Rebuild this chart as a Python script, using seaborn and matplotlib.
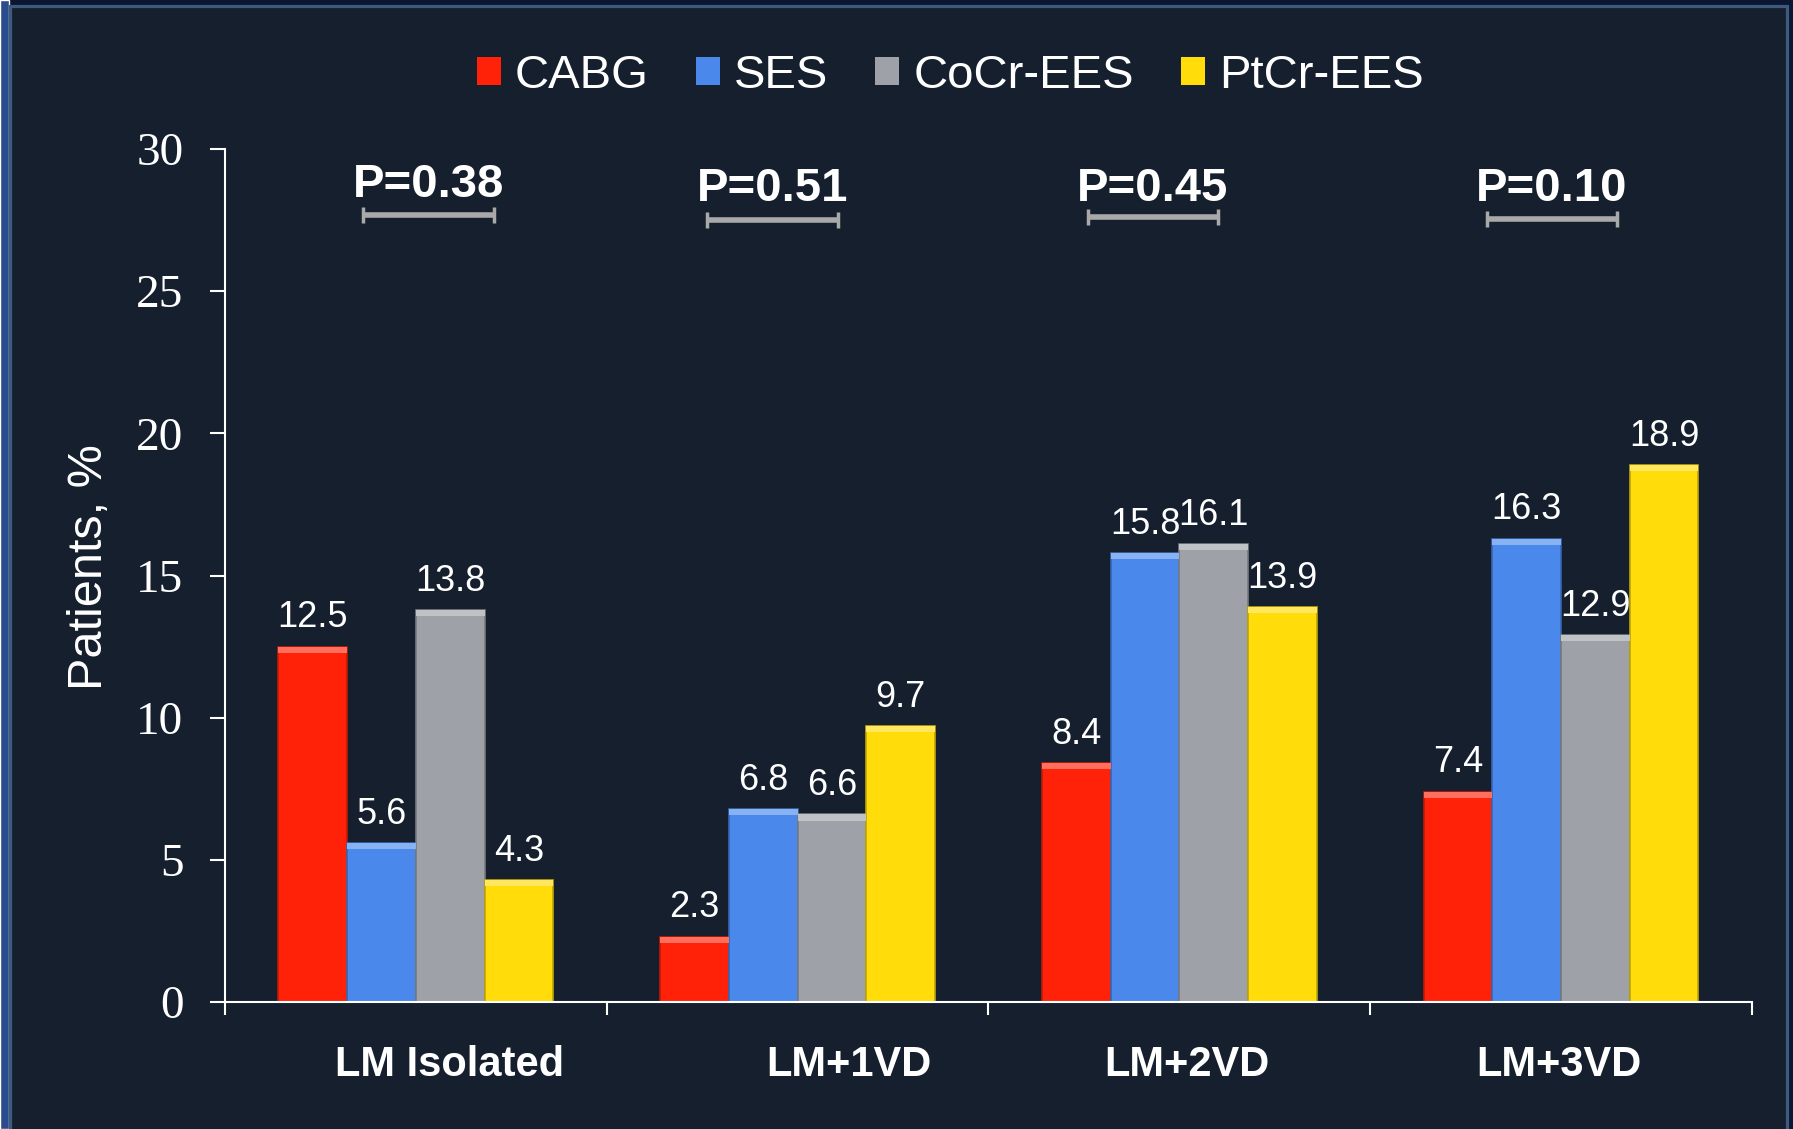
import matplotlib
matplotlib.use("Agg")
import pandas as pd
import seaborn as sns
import matplotlib.pyplot as plt
from matplotlib.patches import Rectangle
from matplotlib import transforms
from matplotlib.colors import to_rgb


grupos = ["LM Isolated", "LM+1VD", "LM+2VD", "LM+3VD"]
tratamentos = ["CABG", "SES", "CoCr-EES", "PtCr-EES"]
cabg = [12.5, 2.3, 8.4, 7.4]
ses = [5.6, 6.8, 15.8, 16.3]
cocr_ees = [13.8, 6.6, 16.1, 12.9]
ptcr_ees = [4.3, 9.7, 13.9, 18.9]
p_valores = ["P=0.38", "P=0.51", "P=0.45", "P=0.10"]
y_ticks = [0, 5, 10, 15, 20, 25, 30]

cores = {"CABG": "#ff2208", "SES": "#4a88ec", "CoCr-EES": "#9ea2a8", "PtCr-EES": "#ffdc0a"}
fundo = "#151f2e"

linhas = []
for trat, vals in zip(tratamentos, [cabg, ses, cocr_ees, ptcr_ees]):
    for g, v in zip(grupos, vals):
        linhas.append({"grupo": g, "tratamento": trat, "valor": v})
df = pd.DataFrame(linhas)

sns.set_theme(style="ticks")
plt.rcParams["font.family"] = ["Liberation Sans", "DejaVu Sans"]

fig = plt.figure(figsize=(17.93, 11.29), dpi=100, facecolor="#0b1632")
# faixa azul na esquerda e painel escuro com borda
fig.patches.append(Rectangle((0, 0), 9 / 1793, 1, transform=fig.transFigure,
                             facecolor="#2b4c8c", zorder=-3))
fig.patches.append(Rectangle((9.5 / 1793, -0.02), 1777.5 / 1793, 1 - 6.5 / 1129 + 0.02,
                             transform=fig.transFigure, facecolor=fundo,
                             edgecolor="#3e5a7c", lw=2.3, zorder=-2))

ax = fig.add_axes([0.1255, 0.1125, 0.8516, 0.7555])
ax.set_facecolor(fundo)

sns.barplot(data=df, x="grupo", y="valor", hue="tratamento", order=grupos,
            hue_order=tratamentos, palette=cores, width=0.72, gap=0,
            saturation=1, linewidth=0, ax=ax)

handles, labels = ax.get_legend_handles_labels()
ax.legend_.remove()
for h in handles:
    h.set_edgecolor("none")

# efeito de chanfro: borda escura e faixa clara no topo de cada barra
for container in ax.containers:
    for barra in container:
        r, g, b = to_rgb(barra.get_facecolor())
        barra.set_edgecolor((r * 0.75, g * 0.75, b * 0.75))
        barra.set_linewidth(1.2)
        claro = (r + (1 - r) * 0.35, g + (1 - g) * 0.35, b + (1 - b) * 0.35)
        ax.add_patch(Rectangle((barra.get_x(), barra.get_height() - 0.22), barra.get_width(), 0.22,
                               facecolor=claro, edgecolor="none", zorder=barra.get_zorder() + 0.1))
    ax.bar_label(container, fmt="%.1f", padding=8, fontsize=26, color="white")

ax.set_ylim(0, 30)
ax.set_xlim(-0.5, 3.5)
ax.set_yticks(y_ticks)
ax.set_xlabel("")
ax.set_ylabel("Patients, %", fontsize=35, color="white", va="center")
ax.yaxis.set_label_coords(-0.089, 0.51)

for lado in ["top", "right"]:
    ax.spines[lado].set_visible(False)
for lado in ["left", "bottom"]:
    ax.spines[lado].set_color("white")
    ax.spines[lado].set_linewidth(1.5)

ax.tick_params(axis="y", length=11, width=1.5, pad=19, colors="white",
               labelsize=34, labelfontfamily="Liberation Serif")
ax.tick_params(axis="x", which="major", length=0, pad=31, colors="white", labelsize=30)
ax.set_xticks([-0.5, 0.5, 1.5, 2.5, 3.5], minor=True)
ax.tick_params(axis="x", which="minor", length=9, width=1.5, color="white", direction="out")
for lbl in ax.get_xticklabels():
    lbl.set_fontweight("bold")

# deslocamento dos rótulos das categorias (px)
desloc_rotulos = [34, 51, 8, -2]
for lbl, dx in zip(ax.get_xticklabels(), desloc_rotulos):
    lbl.set_transform(lbl.get_transform() + transforms.ScaledTranslation(dx / 100, 0, fig.dpi_scale_trans))

# valores de P com barras de comparação
desloc_p = [0.033, -0.066, -0.069, -0.024]
y_texto = [28.72, 28.6, 28.6, 28.6]
y_barra = [27.67, 27.5, 27.6, 27.55]
meia = 0.171
for i, (p, dx) in enumerate(zip(p_valores, desloc_p)):
    cx = i + dx
    ax.text(cx, y_texto[i], p, ha="center", va="center", fontsize=34,
            fontweight="bold", color="white")
    ax.plot([cx - meia, cx + meia], [y_barra[i]] * 2, color="#a9a9a9", lw=4,
            solid_capstyle="butt", clip_on=False)
    ax.plot([cx - meia, cx + meia], [y_barra[i]] * 2, ls="none", marker="|",
            ms=12, mew=2.5, color="#a9a9a9", clip_on=False)

fig.legend(handles, labels, loc="center", bbox_to_anchor=(0.53, 0.933), ncol=4,
           frameon=False, fontsize=34, handlelength=0.5, handleheight=0.55,
           handletextpad=0.3, columnspacing=1.0, labelcolor="white")

fig.savefig("out.png", dpi=100, facecolor=fig.get_facecolor())
